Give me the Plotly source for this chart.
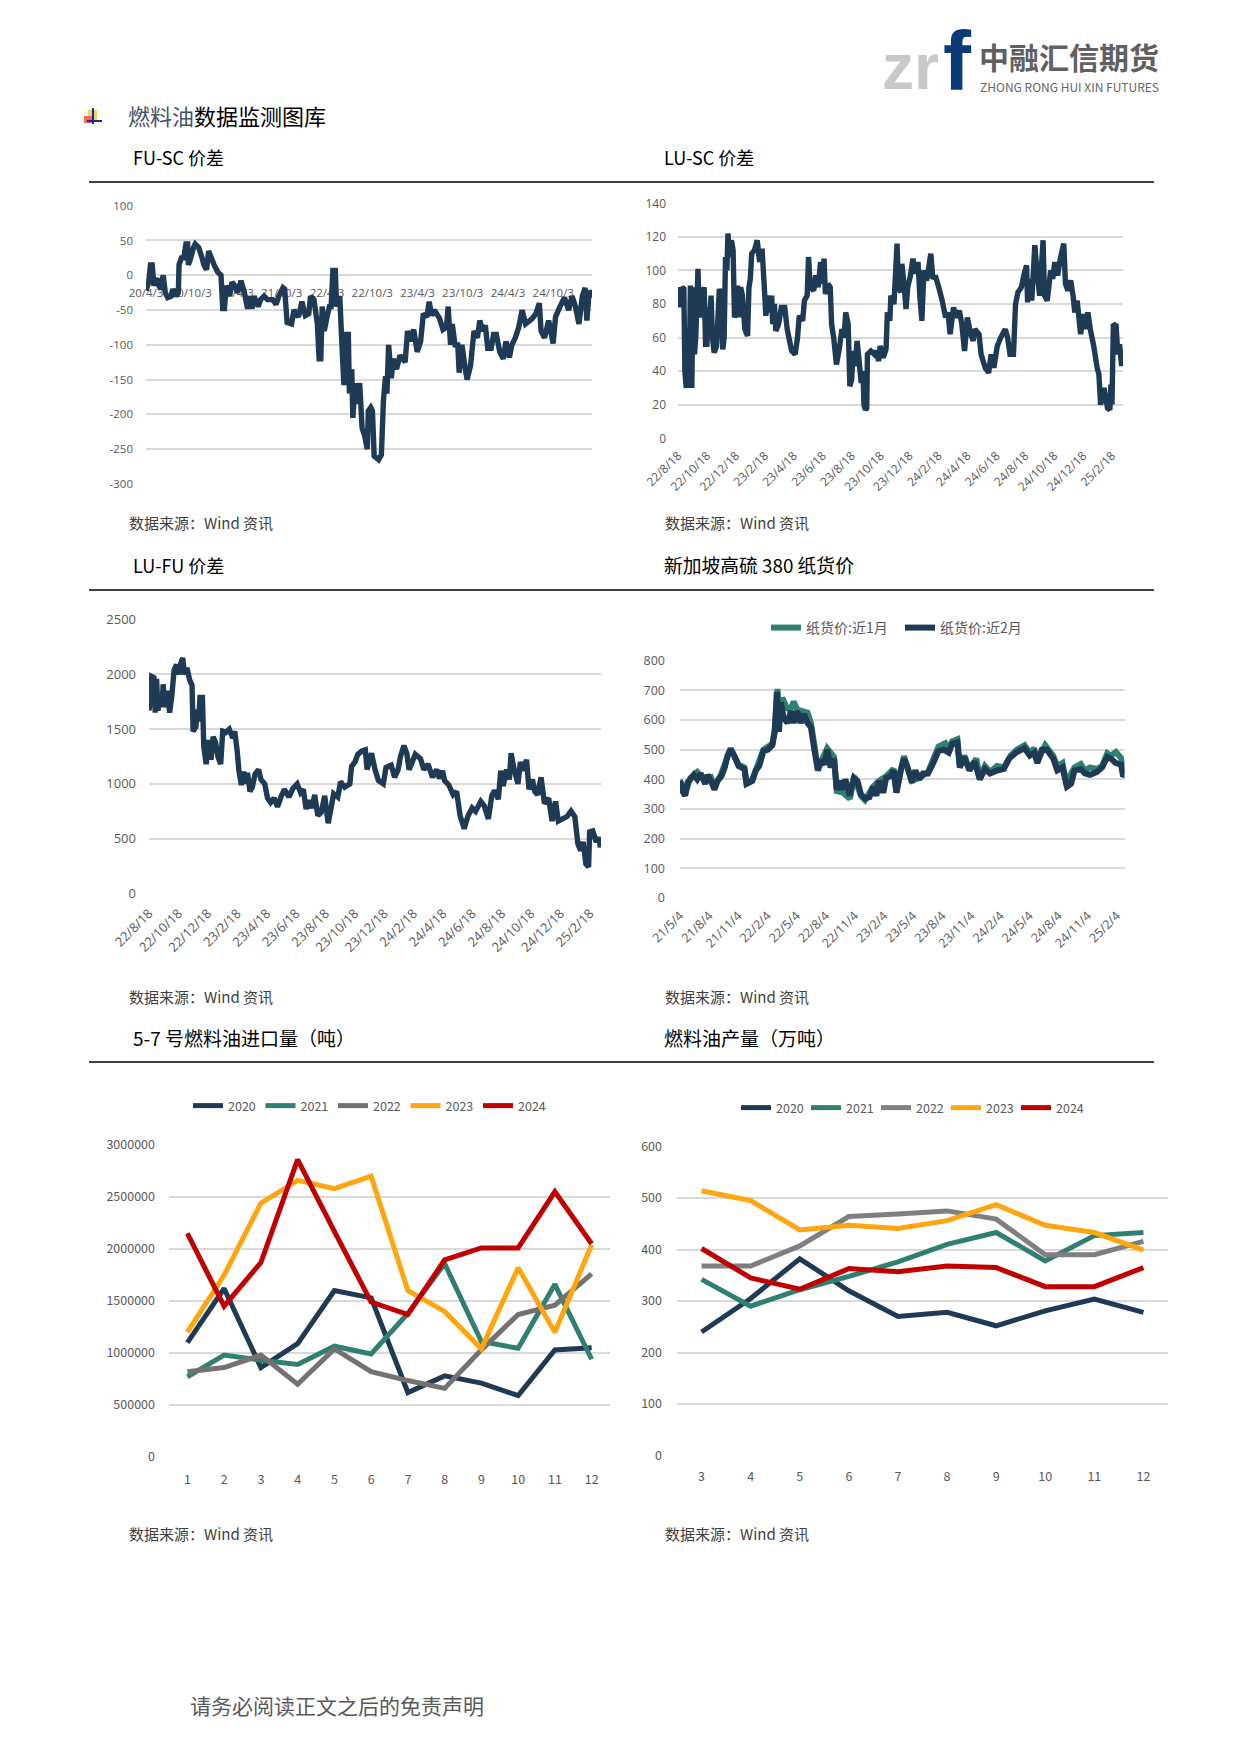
import plotly.graph_objects as go

W, H = 1241, 1755

# ---------- data ----------
fu_sc_obs = [162,170,175,180,185,190,195,200,205,212,218,225,235,240,250,256,258,265,272,278,283,285,292,300,305,315,325,330,338,344,352,360,370,380,385,390,395,405,412,420,428,438,448,457,462,470,476,488,495,505,515,530,540,548,560,565,572,585,592,605,615,625,635,640,650,660,665,670,674,680,688,695,700,705,712,716,725,730,737,745,750,753,760,763,770,775,783,790,797,805,808,815,820,825,838,846,852,858,862,867,875,880,890,900,915,922,930,940,950,960,968,978,985,992,1000,1015,1025,1035,1040,1047,1052,1060,1068,1072,1080,1090,1095,1105,1115,1125,1132,1140,1148,1155,1165,1172,1180,1190,1200,1208,1218,1225,1235,1245,1255,1265,1285,1295,1305,1310,1320,1332,1345,1352,1365,1378,1390,1400,1410,1420,1430,1438,1443,1450,1458]
fu_sc_val = [-22,-10,15,15,-15,-8,-5,-15,-20,0,-25,-32,-30,-20,-30,-25,15,25,25,45,45,15,25,40,45,40,25,15,8,35,25,15,5,0,-48,-48,-15,-30,-10,-15,-25,-8,-25,-48,-30,-48,-30,-45,-35,-30,-35,-35,-42,-30,-18,-20,-68,-70,-50,-60,-38,-58,-55,-30,-35,-70,-120,-120,-45,-80,-60,-45,-45,7,7,-45,-30,-85,-158,-85,-85,-170,-135,-205,-155,-185,-155,-220,-230,-250,-195,-190,-195,-260,-265,-258,-180,-145,-170,-100,-148,-120,-135,-115,-125,-80,-95,-78,-110,-95,-55,-60,-38,-58,-50,-62,-78,-75,-45,-100,-70,-100,-100,-140,-100,-135,-150,-130,-80,-90,-65,-80,-72,-105,-105,-85,-85,-110,-120,-95,-118,-100,-90,-75,-50,-70,-62,-55,-40,-80,-90,-65,-98,-60,-45,-32,-50,-30,-45,-70,-30,-18,-65,-22,-32]
fu_sc_ticks = [162,293.5,425,556.5,688,819.5,951,1082.5,1214,1345.5]
fu_sc_labels = ["20/4/3","20/10/3","21/4/3","21/10/3","22/4/3","22/10/3","23/4/3","23/10/3","24/4/3","24/10/3"]
fu_sc_yticks = [100,50,0,-50,-100,-150,-200,-250,-300]

lu_sc_obs = [168,172,176,180,185,188,192,196,200,204,208,212,216,220,226,230,236,244,248,252,256,260,264,268,273,280,288,293,298,302,306,310,313,318,323,328,332,336,341,345,350,355,362,370,374,378,382,390,398,405,412,420,423,430,435,440,443,448,452,460,468,478,485,490,498,508,515,520,530,535,543,547,552,562,568,575,582,586,592,596,604,610,614,620,628,636,644,650,655,662,667,672,677,682,688,692,700,705,708,712,716,718,728,738,745,750,755,764,772,776,783,786,795,800,804,808,815,818,825,830,835,843,850,858,865,870,876,882,890,896,902,908,915,925,935,945,952,958,968,975,985,992,1000,1008,1018,1025,1030,1042,1048,1060,1070,1077,1085,1095,1105,1118,1125,1132,1142,1148,1155,1165,1172,1180,1183,1190,1195,1204,1210,1218,1228,1232,1240,1250,1256,1262,1270,1278,1288,1293,1300,1308,1315,1320,1327,1337,1345,1352,1358,1365,1375,1385,1390,1395,1405,1415,1422,1425,1428,1432,1440,1445,1450,1456,1460]
lu_sc_val = [78,90,78,90,89,40,30,55,30,91,30,90,50,62,101,72,80,90,56,56,78,70,85,60,51,55,89,85,53,60,108,100,122,108,118,112,72,75,91,72,90,85,65,61,90,95,110,112,118,105,113,85,73,85,75,85,68,80,64,68,78,78,65,60,52,50,60,73,70,82,85,108,90,88,97,90,105,92,107,86,92,90,68,60,44,53,65,60,75,68,31,35,52,43,58,50,33,40,20,17,18,50,52,50,52,46,55,48,53,75,70,85,80,100,116,90,87,104,90,77,90,97,107,98,105,85,70,100,94,102,110,95,97,90,82,72,75,62,78,72,76,68,52,72,62,58,65,62,50,42,39,50,42,55,60,65,60,50,50,80,87,90,97,103,81,95,82,115,100,85,118,85,82,100,95,105,97,107,116,92,88,94,85,75,82,62,74,65,75,65,55,42,38,20,30,18,17,32,20,68,67,50,56,43,52]
lu_sc_ticks = [168,252,336,420,504,588,672,756,840,924,1008,1092,1176,1260,1344,1428]
lu_labels = ["22/8/18","22/10/18","22/12/18","23/2/18","23/4/18","23/6/18","23/8/18","23/10/18","23/12/18","24/2/18","24/4/18","24/6/18","24/8/18","24/10/18","24/12/18","25/2/18"]

lu_fu_obs = [172,176,180,186,190,194,198,205,210,213,218,225,232,238,245,252,258,264,270,275,282,290,297,300,308,312,316,320,327,331,338,345,352,358,365,372,380,386,395,405,415,421,428,433,440,447,453,458,465,472,480,490,497,508,516,525,535,545,555,565,578,590,602,612,620,628,636,645,653,662,672,682,692,700,708,720,728,740,755,760,770,778,790,800,805,818,828,838,852,860,875,885,895,902,912,920,927,945,960,970,982,995,1007,1015,1024,1030,1042,1055,1065,1075,1087,1097,1110,1120,1135,1145,1157,1167,1175,1186,1193,1200,1210,1218,1223,1232,1243,1250,1258,1268,1275,1285,1292,1300,1310,1320,1332,1342,1352,1360,1372,1385,1397,1408,1417,1425,1432,1440,1448,1451,1460,1470,1478,1482,1484]
lu_fu_val = [1670,1780,1980,1970,1650,1960,1670,1800,1700,1910,1700,1850,1650,1800,2040,2090,2000,2100,2150,2000,2060,1950,1900,1480,1520,1680,1570,1790,1790,1340,1180,1400,1220,1430,1380,1250,1180,1480,1470,1500,1420,1480,1300,1120,990,1110,1000,1100,930,970,1090,1130,1040,1000,870,830,870,790,880,950,880,960,1000,920,950,770,850,780,900,710,740,890,640,770,910,880,1020,970,1000,1160,1200,1270,1300,1310,1130,1280,1130,1030,1000,1150,1170,1060,1130,1250,1350,1280,1130,1270,1230,1130,1180,1060,1130,1050,1120,1030,990,900,930,710,590,700,780,750,840,800,680,890,940,860,1120,980,1130,1040,1280,1130,1000,1200,1120,1220,950,1040,930,900,1060,820,870,660,840,660,680,700,750,700,450,390,470,270,240,560,570,470,510,420,500]
lu_fu_ticks = [172,257.3,342.6,427.9,513.2,598.5,683.8,769.1,854.4,939.7,1025,1110.3,1195.6,1280.9,1366.2,1451.5]

paper_m2_obs = [175,180,190,197,205,215,225,235,248,256,265,275,283,295,305,313,322,332,345,362,368,385,395,405,417,430,443,450,456,462,468,475,487,497,505,515,525,535,545,555,565,575,585,595,602,612,622,630,640,648,655,668,680,690,700,712,725,735,745,752,765,773,785,795,803,815,825,835,848,858,870,880,895,910,925,940,955,965,980,987,1000,1015,1030,1045,1060,1075,1095,1115,1130,1150,1175,1190,1203,1212,1225,1240,1258,1270,1285,1298,1310,1320,1338,1350,1365,1385,1400,1415,1425,1440,1455,1461,1465]
paper_m2_val = [395,365,345,390,400,415,400,420,385,415,395,365,395,410,440,480,500,480,445,435,385,395,430,445,495,500,515,560,695,560,660,610,590,630,590,630,590,620,590,575,500,430,465,450,500,440,470,365,395,365,400,345,405,395,350,335,340,375,345,395,355,405,410,430,355,430,470,440,390,430,400,420,420,455,495,500,490,520,525,440,475,430,460,400,435,420,430,435,470,490,505,480,490,455,500,500,470,430,440,375,385,430,435,420,415,425,440,475,470,455,450,410,415]
paper_m1_obs = [175,190,205,225,248,265,275,295,322,345,362,368,385,417,443,450,458,464,472,485,495,505,515,530,545,555,565,575,602,622,630,648,668,680,700,712,735,752,773,795,803,825,848,870,895,925,945,955,965,980,987,1000,1015,1035,1045,1060,1075,1095,1115,1135,1150,1175,1190,1203,1212,1235,1258,1270,1285,1298,1310,1320,1338,1350,1365,1385,1400,1415,1425,1440,1455,1465]
paper_m1_val = [398,350,405,425,395,405,370,420,505,450,440,390,400,500,520,570,705,600,675,640,635,662,635,630,625,590,515,435,505,475,360,355,335,410,345,330,375,395,410,435,355,478,395,405,425,510,522,500,528,535,445,480,435,470,405,445,425,445,440,480,498,515,488,505,460,515,480,445,455,375,420,440,452,430,440,435,445,488,480,492,472,420]
paper_ticks = [175,259.5,344,428.5,513,597.5,682,766.5,851,935.5,1020,1104.5,1189,1273.5,1358,1442.5]
paper_labels = ["21/5/4","21/8/4","21/11/4","22/2/4","22/5/4","22/8/4","22/11/4","23/2/4","23/5/4","23/8/4","23/11/4","24/2/4","24/5/4","24/8/4","24/11/4","25/2/4"]

years = ["2020","2021","2022","2023","2024"]
import_months = [1,2,3,4,5,6,7,8,9,10,11,12]
import_2020 = [1100000,1620000,860000,1090000,1600000,1530000,620000,780000,710000,590000,1030000,1050000]
import_2021 = [770000,980000,930000,890000,1065000,990000,1380000,1860000,1110000,1045000,1660000,940000]
import_2022 = [820000,860000,980000,700000,1040000,820000,735000,660000,1030000,1370000,1460000,1760000]
import_2023 = [1200000,1750000,2440000,2660000,2580000,2700000,1600000,1400000,1040000,1820000,1200000,2040000]
import_2024 = [2150000,1450000,1870000,2860000,2170000,1490000,1370000,1895000,2010000,2010000,2550000,2050000]

output_months = [3,4,5,6,7,8,9,10,11,12]
output_2020 = [240,305,382,320,270,278,252,281,304,278]
output_2021 = [342,290,322,348,376,410,433,378,427,433]
output_2022 = [368,368,407,464,469,475,459,390,390,416]
output_2023 = [514,495,438,447,441,456,487,447,433,399]
output_2024 = [402,345,323,363,357,368,365,328,328,365]

# ---------- styles ----------
NAVY, TEAL, ORANGE, RED = "#1F3A54", "#2F7F72", "#FFA50F", "#C00000"
GREY5, GREY6 = "#767171", "#7F7F7F"
GRID = "#D9D9D9"
TICK = "#595959"
CJK = "Noto Sans CJK SC"
NUM = "Open Sans, " + CJK

def px(x): return x / W
def py(y): return 1 - y / H

fig = go.Figure()
shapes, annos = [], []

def text(x, y, s, size, color="#000000", font=CJK, anchor="left", **kw):
    annos.append(dict(x=px(x), y=py(y), xref="paper", yref="paper", text=s, showarrow=False,
                      xanchor=anchor, yanchor="middle", align="left",
                      font=dict(size=size, color=color, family=font), **kw))

def hline(x0, x1, y, color="#000000", width=1.3):
    shapes.append(dict(type="line", xref="paper", yref="paper", x0=px(x0), x1=px(x1),
                       y0=py(y), y1=py(y), line=dict(color=color, width=width)))

def panel(i, box, yr, yticks, xr, tv, tt, font, size, angle=0, xlabel_y=None, ystand=9, xstand=0):
    l, r, t, b = box
    suffix = "" if i == 1 else str(i)
    xa = dict(domain=[px(l), px(r)], range=xr, tickmode="array", tickvals=tv, ticktext=tt,
              showgrid=False, zeroline=False, showline=False, ticks="", anchor="y" + suffix,
              ticklabelstandoff=xstand,
              tickfont=dict(size=size, color=TICK, family=font), tickangle=angle, layer="below traces")
    if xlabel_y is not None:
        xa.update(anchor="free", position=py(xlabel_y))
    ya = dict(domain=[py(b), py(t)], range=yr, tickmode="array", tickvals=yticks, ticktext=[str(v) for v in yticks],
              showgrid=True, gridcolor=GRID, gridwidth=1.6,
              zeroline=False, showline=False, ticks="", anchor="x" + suffix, ticklabelstandoff=ystand,
              tickfont=dict(size=size, color=TICK, family=font), layer="below traces")
    fig.layout["xaxis" + suffix] = xa
    fig.layout["yaxis" + suffix] = ya

def line(i, x, y, color, width=5.4, name=None, legend=None):
    suffix = "" if i == 1 else str(i)
    fig.add_trace(go.Scatter(x=x, y=y, mode="lines", name=name, cliponaxis=False,
                             showlegend=legend is not None, legend=legend,
                             line=dict(color=color, width=width, simplify=False),
                             xaxis="x" + suffix, yaxis="y" + suffix))

# ---------- panels ----------
panel(1, (146, 592, 205.7, 484), [-300, 100], fu_sc_yticks, [162, 1458], fu_sc_ticks, fu_sc_labels, NUM, 11.5, xlabel_y=284, ystand=12)
line(1, fu_sc_obs, fu_sc_val, NAVY)

panel(2, (678, 1123, 203.3, 438.3), [0, 140], [0,20,40,60,80,100,120,140], [168, 1460], lu_sc_ticks, lu_labels, NUM, 12, angle=-45, ystand=11, xstand=7)
line(2, lu_sc_obs, lu_sc_val, NAVY)

panel(3, (149, 601, 619.7, 893.3), [0, 2500], [0,500,1000,1500,2000,2500], [172, 1484], lu_fu_ticks, lu_labels, NUM, 13, angle=-45, ystand=12, xstand=9)
line(3, lu_fu_obs, lu_fu_val, NAVY)

panel(4, (680, 1124.5, 660.7, 898), [0, 800], [0,100,200,300,400,500,600,700,800], [175, 1465], paper_ticks, paper_labels, NUM, 12.5, angle=-45, ystand=14, xstand=7)
line(4, paper_m1_obs, paper_m1_val, TEAL, width=6, name="纸货价:近1月", legend="legend")
line(4, paper_m2_obs, paper_m2_val, NAVY, width=6, name="纸货价:近2月", legend="legend")

panel(5, (169, 610, 1145, 1457), [0, 3000000], [0,500000,1000000,1500000,2000000,2500000,3000000], [0.5, 12.5], import_months, [str(m) for m in import_months], CJK, 12.5, ystand=13, xstand=13)
for yr, vals, col in zip(years, [import_2020, import_2021, import_2022, import_2023, import_2024], [NAVY, TEAL, GREY5, ORANGE, RED]):
    line(5, import_months, vals, col, width=5, name=yr, legend="legend2")

panel(6, (677, 1168, 1146.5, 1455.6), [0, 600], [0,100,200,300,400,500,600], [2.5, 12.5], output_months, [str(m) for m in output_months], CJK, 12.5, ystand=14, xstand=12)
for yr, vals, col in zip(years, [output_2020, output_2021, output_2022, output_2023, output_2024], [NAVY, TEAL, GREY6, ORANGE, RED]):
    line(6, output_months, vals, col, width=5, name=yr, legend="legend3")

# ---------- page furniture ----------
for y in (182, 590, 1062):
    hline(89, 1154, y)

text(126, 115, "<span style='color:#44546A'>燃料油</span>数据监测图库", 22)
for (x, y, title, size) in [(131, 157, "FU-SC 价差", 18), (662, 157, "LU-SC 价差", 18),
                            (131, 564.5, "LU-FU 价差", 18), (662, 564.5, "新加坡高硫 380 纸货价", 18.8),
                            (131, 1037, "5-7 号燃料油进口量（吨）", 19), (662, 1037, "燃料油产量（万吨）", 19)]:
    text(x, y, title, size)
for (x, y) in [(127, 522.5), (663, 522.5), (127, 996), (663, 996), (127, 1533), (663, 1533)]:
    text(x, y, "数据来源：Wind 资讯", 15, color="#404040")
text(188, 1705, "请务必阅读正文之后的免责声明", 21, color="#595959")

# icon
for (x0, x1, y0, y1, c) in [(88, 97, 110, 122, "#F6D35A"), (84, 92, 116, 123, "#EE6A60"),
                            (92, 94, 108, 124, "#1B2A9A"), (87, 102, 120, 122, "#1B2A9A")]:
    shapes.append(dict(type="rect", xref="paper", yref="paper", x0=px(x0), x1=px(x1), y0=py(y1), y1=py(y0),
                       fillcolor=c, line=dict(width=0)))

# logo
text(880, 67, "<b>zr</b>", 64, color="#C8C8C8", font="Liberation Sans")
text(941, 61, "<b>f</b>", 84, color="#0B3A75", font="Liberation Sans")
text(977, 55.5, "<b>中融汇信期货</b>", 30, color="#606060")
text(978, 86, "ZHONG RONG HUI XIN FUTURES", 12, color="#666666", font=CJK)

def legend(x, y, gap, size=12.5):
    return dict(orientation="h", x=px(x), y=py(y), xref="paper", yref="paper", xanchor="left", yanchor="middle",
                entrywidth=gap, entrywidthmode="pixels", itemwidth=30, bgcolor="rgba(0,0,0,0)",
                font=dict(size=size, color=TICK, family=CJK), traceorder="normal", tracegroupgap=0)

fig.update_layout(width=W, height=H, margin=dict(l=0, r=0, t=0, b=0, autoexpand=False), paper_bgcolor="white", plot_bgcolor="white",
                  shapes=shapes, annotations=annos, hovermode=False,
                  legend=legend(766, 628, 89, size=14), legend2=legend(188, 1106, 27.5), legend3=legend(736, 1108, 25))

fig.write_html("out.html", config={"displayModeBar": False},
               post_script="document.body.style.margin='0';document.body.style.overflow='hidden';")
